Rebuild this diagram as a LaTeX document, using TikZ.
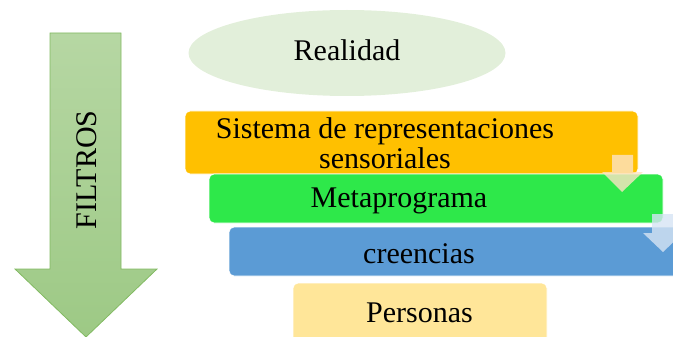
\documentclass[tikz,border=0pt]{standalone}
\usepackage{fontspec}
\setmainfont{Liberation Serif}
\usetikzlibrary{shapes.geometric}
\definecolor{realgreen}{RGB}{226,239,218}
\definecolor{sysorange}{RGB}{255,192,0}
\definecolor{metagreen}{RGB}{46,232,74}
\definecolor{creeblue}{RGB}{91,155,213}
\definecolor{peryellow}{RGB}{255,230,153}
\definecolor{filtop}{RGB}{182,215,163}
\definecolor{filbot}{RGB}{157,201,133}
\definecolor{filedge}{RGB}{130,186,98}
\definecolor{tintorange}{RGB}{253,228,196}
\definecolor{tintblue}{RGB}{214,228,244}
\tikzset{
  txt/.style={font=\fontsize{30}{30}\selectfont, inner sep=0pt, align=center},
  band/.style={draw=white, line width=0.8pt, rounded corners=5pt, inner sep=0pt},
  smallarrow/.style={fill=#1, fill opacity=0.8}
}
\begin{document}
\begin{tikzpicture}[x=1pt,y=-1pt]
    \useasboundingbox (0,0) rectangle (673,337);
    % big arrow
    \draw[filedge, line width=0.8pt, top color=filtop, bottom color=filbot]
        (50,33) -- (121,33) -- (121,269) -- (157,269) -- (86,337)
        -- (15,269) -- (50,269) -- cycle;
    \node[txt, rotate=90] (filtros) at (87,170) {FILTROS};
    % realidad
    \node[ellipse, fill=realgreen, minimum width=317pt, minimum height=86pt, inner sep=0pt] (real) at (347,53) {};
    \node[txt] (realtxt) at (347,50) {Realidad};
    % bands
    \node[band, fill=sysorange, minimum width=453pt, minimum height=63pt] (sys) at (411.5,142.5) {};
    \node[txt] (systxt) at (385,143) {Sistema de representaciones\\sensoriales};
    \node[band, fill=metagreen, minimum width=454pt, minimum height=49pt] (meta) at (436,198.5) {};
    \node[txt] (metatxt) at (399,201) {Metaprograma};
    \fill[smallarrow=tintorange] (612,155) -- (633,155) -- (633,172) -- (643,172) -- (622,192)
        -- (602,172) -- (612,172) -- cycle;
    \node[band, fill=creeblue, minimum width=454pt, minimum height=49pt] (cree) at (456,251.5) {};
    \node[txt] (creetxt) at (419,254) {creencias};
    \fill[smallarrow=tintblue] (652,214) -- (673,214) -- (673,233) -- (683,233) -- (663,252)
        -- (643,233) -- (652,233) -- cycle;
    \node[band, fill=peryellow, minimum width=254pt, minimum height=66pt] (pers) at (420,316) {};
    \node[txt] (perstxt) at (419.5,313) {Personas};
\end{tikzpicture}
\end{document}
